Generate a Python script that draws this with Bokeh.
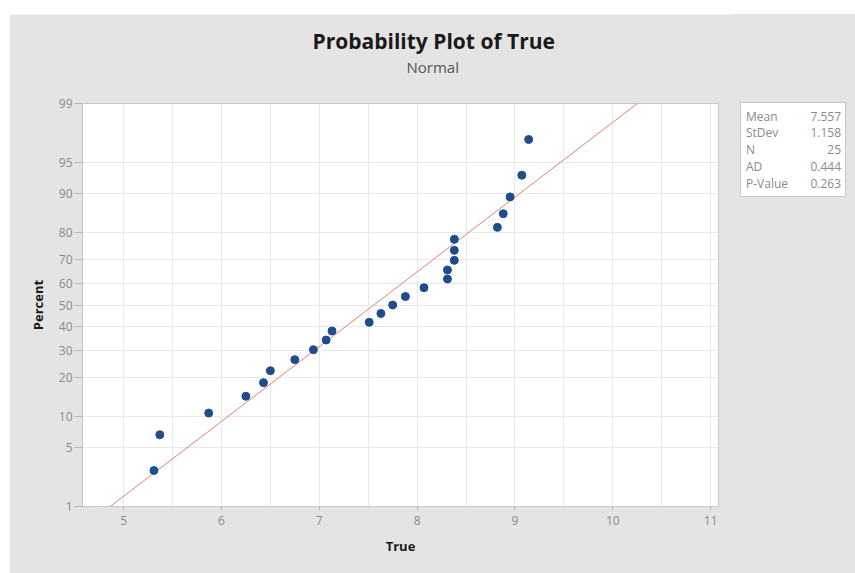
import math
from bokeh.plotting import figure
from bokeh.layouts import row
from bokeh.models import Range1d, FixedTicker, Title, Div, CustomJSTickFormatter
from bokeh.embed import file_html
from bokeh.resources import INLINE

# ---- data ----
true_values = [5.31, 5.37, 5.87, 6.25, 6.43, 6.50, 6.75, 6.94, 7.07, 7.13,
               7.51, 7.63, 7.75, 7.88, 8.07, 8.31, 8.31, 8.38, 8.38, 8.38,
               8.82, 8.88, 8.95, 9.07, 9.14]
percent_values = [2.8, 6.7, 10.6, 14.6, 18.5, 22.4, 26.4, 30.3, 34.3, 38.2,
                  42.1, 46.1, 50.0, 53.9, 57.9, 61.8, 65.7, 69.7, 73.6, 77.6,
                  81.5, 85.4, 89.4, 93.3, 97.2]
percent_ticks = [1, 5, 10, 20, 30, 40, 50, 60, 70, 80, 90, 95, 99]
x_ticks = [5, 6, 7, 8, 9, 10, 11]
x_grid = [5, 5.5, 6, 6.5, 7, 7.5, 8, 8.5, 9, 9.5, 10, 10.5, 11]
mean_val = 7.557
stdev_val = 1.158
stat_names = ["Mean", "StDev", "N", "AD", "P-Value"]
stat_texts = ["7.557", "1.158", "25", "0.444", "0.263"]


def norm_ppf(p):
    lo, hi = -10.0, 10.0
    for _ in range(100):
        mid = (lo + hi) / 2
        if 0.5 * (1 + math.erf(mid / math.sqrt(2))) < p:
            lo = mid
        else:
            hi = mid
    return (lo + hi) / 2


z_ticks = [norm_ppf(t / 100) for t in percent_ticks]
z_points = [norm_ppf(v / 100) for v in percent_values]
z_lo, z_hi = z_ticks[0], z_ticks[-1]

FONT = "Open Sans"
BG = "#e4e4e4"

p = figure(width=721, height=559, output_backend="svg", toolbar_location=None,
           x_range=Range1d(4.58, 11.08), y_range=Range1d(z_lo, z_hi),
           min_border_left=73, min_border_right=12, min_border_top=89,
           min_border_bottom=67, title=None, margin=0)
p.background_fill_color = "white"
p.border_fill_color = BG
p.outline_line_color = "#c8c8c8"

p.xgrid.ticker = FixedTicker(ticks=x_grid)
p.ygrid.ticker = FixedTicker(ticks=z_ticks)
p.xgrid.grid_line_color = "#e8e8e8"
p.ygrid.grid_line_color = "#e8e8e8"

p.xaxis.ticker = FixedTicker(ticks=x_ticks)
p.yaxis.ticker = FixedTicker(ticks=z_ticks)
p.yaxis.formatter = CustomJSTickFormatter(
    args=dict(zs=z_ticks, labels=[str(t) for t in percent_ticks]),
    code="for (let i = 0; i < zs.length; i++) { if (Math.abs(tick - zs[i]) < 1e-6) return labels[i]; } return '';")

for ax in (p.xaxis, p.yaxis):
    ax.axis_line_color = "#c8c8c8"
    ax.major_tick_line_color = "#b8b8b8"
    ax.minor_tick_line_color = None
    ax.major_tick_in = 0
    ax.major_label_text_color = "#8a8a8a"
    ax.major_label_text_font = FONT
    ax.major_label_text_font_size = "12px"
    ax.axis_label_text_font = FONT
    ax.axis_label_text_font_style = "bold"
    ax.axis_label_text_font_size = "13px"
    ax.axis_label_text_color = "#1a1a1a"

p.yaxis.major_tick_out = 8
p.yaxis.major_label_standoff = 2
p.yaxis.axis_label = "Percent"
p.yaxis.axis_label_standoff = 9
p.xaxis.major_tick_out = 4
p.xaxis.major_label_standoff = 5
p.xaxis.axis_label = "True"
p.xaxis.axis_label_standoff = 9

# fitted normal line (1% .. 99%)
line_x = [mean_val + z_lo * stdev_val, mean_val + z_hi * stdev_val]
p.line(line_x, [z_lo, z_hi], line_color="#e2836f", line_width=1)

p.scatter(true_values, z_points, size=8, fill_color="#1f4d8c", line_color="#1f4d8c")

# spacer panel next to the frame, then subtitle, then main title
p.add_layout(Title(text=" ", align="left", standoff=22, text_font=FONT,
                   text_font_size="2px", text_color=BG), "above")
p.add_layout(Title(text="Normal", align="left", offset=324, standoff=0,
                   text_font=FONT, text_font_size="15px", text_font_style="normal",
                   text_color="#555555"), "above")
p.add_layout(Title(text="Probability Plot of True", align="left", offset=230, standoff=0,
                   text_font=FONT, text_font_size="21px", text_font_style="bold",
                   text_color="#1a1a1a"), "above")

# statistics box (right of the plot)
rows_html = ""
for i, (nm, tx) in enumerate(zip(stat_names, stat_texts)):
    top = 5.5 + i * 16.75
    rows_html += (
        f'<div style="position:absolute;left:5px;right:4px;top:{top:.2f}px;height:15px;line-height:15px;">'
        f'<span style="position:absolute;left:0;">{nm}</span>'
        f'<span style="position:absolute;right:0;">{tx}</span></div>'
    )
stats_html = (
    f'<div style="position:relative;width:125px;height:559px;background:{BG};margin:0;padding:0;">'
    f'<div style="position:absolute;left:10px;top:88px;width:106px;height:95px;background:#ffffff;'
    f'border:1px solid #c8c8c8;font-family:\'Open Sans\';font-size:12px;color:#8a8a8a;">'
    f'{rows_html}</div></div>'
)
stats = Div(text=stats_html, width=125, height=559, margin=0)

layout = row(p, stats, margin=(14, 0, 0, 9), spacing=0)

open("out.html", "w").write(file_html(layout, INLINE))
